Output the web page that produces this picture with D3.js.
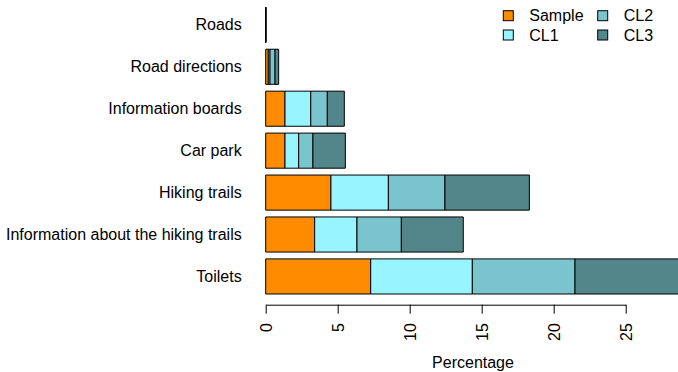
<!DOCTYPE html>
<html>
<head>
<meta charset="utf-8">
<script src="https://cdn.jsdelivr.net/npm/d3@7"></script>
<style>
  html, body { margin: 0; padding: 0; background: #fff; }
  svg { display: block; font-family: "Liberation Sans", Arial, Helvetica, sans-serif; }
</style>
</head>
<body>
<svg id="chart" width="678" height="372"></svg>
<script>
// Facilities, top to bottom
const categories = [
  "Roads",
  "Road directions",
  "Information boards",
  "Car park",
  "Hiking trails",
  "Information about the hiking trails",
  "Toilets"
];

// Stacked series (percentage)
const seriesNames = ["Sample", "CL1", "CL2", "CL3"];
const sampleValues = [0, 0.18, 1.34, 1.34, 4.53, 3.40, 7.29];
const cl1Values    = [0, 0.12, 1.79, 0.95, 3.99, 2.94, 7.06];
const cl2Values    = [0, 0.35, 1.15, 0.99, 3.93, 3.08, 7.13];
const cl3Values    = [0, 0.25, 1.18, 2.25, 5.86, 4.30, 7.32];
const seriesColors = ["#FF8C00", "#98F5FF", "#7AC5CD", "#53868B"];

const xTicks = [0, 5, 10, 15, 20, 25];
const xTitle = "Percentage";

const FONT = 16;
const svg = d3.select("#chart");

const rows = categories.map((c, i) => ({
  category: c,
  Sample: sampleValues[i],
  CL1: cl1Values[i],
  CL2: cl2Values[i],
  CL3: cl3Values[i]
}));

const stacked = d3.stack().keys(seriesNames)(rows);

const x = d3.scaleLinear().domain([0, 25]).range([265.7, 625.7]);
const y = d3.scaleBand()
  .domain(categories)
  .range([7.3, 294])
  .paddingInner(0.163)
  .paddingOuter(0);

const color = d3.scaleOrdinal().domain(seriesNames).range(seriesColors);

// Bars as closed paths so zero-width segments still show their outline
const barPath = d => {
  const x0 = x(d[0]);
  const w = Math.max(0, x(d[1]) - x0);
  const y0 = y(d.data.category);
  const h = y.bandwidth();
  return `M${x0},${y0}h${w}v${h}h${-w}Z`;
};

const layers = svg.append("g").attr("class", "bars");
stacked.forEach(layer => {
  layers.append("g")
    .attr("fill", color(layer.key))
    .selectAll("path")
    .data(layer)
    .join("path")
      .attr("d", barPath)
      .attr("stroke", "#000")
      .attr("stroke-width", 1);
});

// Category labels
svg.append("g")
  .selectAll("text")
  .data(categories)
  .join("text")
    .attr("x", 241.7)
    .attr("y", d => y(d) + y.bandwidth() / 2)
    .attr("text-anchor", "end")
    .attr("dominant-baseline", "central")
    .attr("font-size", FONT)
    .attr("fill", "#000")
    .text(d => d);

// Bottom axis
const axisY = 304.7;
const axis = svg.append("g")
  .attr("transform", `translate(0,${axisY})`)
  .call(d3.axisBottom(x).tickValues(xTicks).tickSize(9).tickSizeOuter(0).tickFormat(d3.format("d")));
axis.select(".domain").attr("stroke", "#000").attr("stroke-width", 1);
axis.selectAll(".tick line").attr("stroke", "#000").attr("stroke-width", 1);
axis.selectAll(".tick text")
  .attr("font-size", FONT)
  .attr("font-family", "Liberation Sans, Arial, sans-serif")
  .attr("fill", "#000")
  .attr("transform", "rotate(-90)")
  .attr("x", -18.5)
  .attr("y", 0)
  .attr("dy", "0.35em")
  .attr("text-anchor", "end");

svg.append("text")
  .attr("x", 473)
  .attr("y", 362)
  .attr("text-anchor", "middle")
  .attr("dominant-baseline", "central")
  .attr("font-size", FONT)
  .attr("fill", "#000")
  .text(xTitle);

// Legend: two columns
const legend = svg.append("g").attr("class", "legend");
const colX = [503.3, 597.7];
const rowY = [15.7, 35];
seriesNames.forEach((name, i) => {
  const cx = colX[Math.floor(i / 2)];
  const cy = rowY[i % 2];
  legend.append("rect")
    .attr("x", cx)
    .attr("y", cy - 5)
    .attr("width", 10)
    .attr("height", 10)
    .attr("fill", color(name))
    .attr("stroke", "#000")
    .attr("stroke-width", 1);
  legend.append("text")
    .attr("x", cx + 26)
    .attr("y", cy)
    .attr("dominant-baseline", "central")
    .attr("font-size", FONT)
    .attr("fill", "#000")
    .text(name);
});
</script>
</body>
</html>
